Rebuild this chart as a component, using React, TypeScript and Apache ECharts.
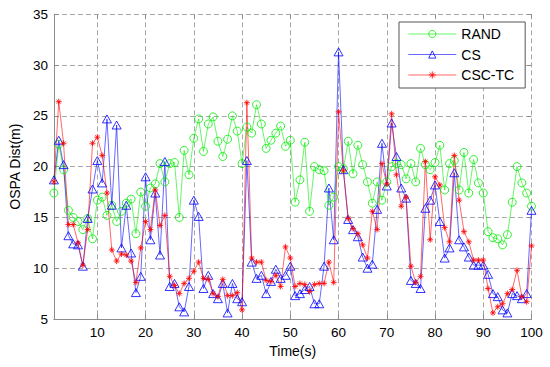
import React, { useEffect, useRef } from "react";
import * as echarts from "echarts";

const timeSteps: number[] = Array.from({ length: 100 }, (_, i) => i + 1);

const randValues: number[] = [
  17.4, 22.2, 19.7, 15.7, 15.0, 14.6, 13.8, 14.9, 12.9, 16.7,
  17.0, 15.2, 16.2, 14.6, 15.6, 16.4, 16.8, 13.4, 17.5, 16.1,
  17.9, 18.3, 20.3, 18.5, 20.3, 20.4, 15.0, 21.6, 19.2, 22.8,
  24.7, 21.5, 24.2, 24.9, 22.5, 21.0, 22.7, 25.0, 23.5, 20.3,
  23.9, 23.3, 26.1, 24.2, 21.8, 22.6, 23.3, 24.0, 22.0, 22.6,
  16.5, 18.7, 22.4, 15.6, 20.0, 19.7, 19.6, 16.2, 17.0, 20.0,
  19.8, 22.5, 19.3, 22.1, 20.2, 18.5, 16.4, 18.5, 16.7, 18.5,
  20.0, 20.3, 20.2, 18.8, 20.3, 18.5, 21.8, 20.2, 19.7, 20.4,
  22.1, 17.7, 20.3, 20.6, 17.7, 21.4, 17.4, 20.7, 18.4, 17.4,
  13.6, 13.0, 12.9, 12.3, 13.3, 16.5, 20.0, 18.4, 17.4, 16.1,
];

const csValues: number[] = [
  18.7, 22.6, 20.2, 13.2, 12.4, 12.3, 10.2, 14.9, 17.8, 20.6,
  18.4, 24.7, 16.2, 24.1, 12.0, 16.2, 11.5, 7.6, 9.2, 19.0,
  12.8, 17.4, 11.3, 20.5, 8.2, 8.5, 6.2, 5.7, 8.2, 16.7,
  15.1, 8.0, 9.3, 7.5, 7.0, 8.5, 5.6, 8.5, 7.0, 6.7,
  20.6, 10.6, 9.0, 9.3, 7.5, 8.7, 9.9, 9.0, 9.3, 10.2,
  7.3, 7.5, 7.9, 8.2, 6.5, 6.5, 10.2, 17.9, 12.8, 31.3,
  19.7, 14.8, 13.8, 13.1, 11.1, 10.0, 10.4, 15.8, 22.3, 18.1,
  24.3, 21.0, 17.9, 16.9, 8.8, 8.5, 8.0, 15.9, 16.7, 18.2,
  14.6, 11.0, 12.0, 19.4, 12.8, 12.1, 11.1, 10.3, 10.3, 10.3,
  9.4, 7.5, 7.2, 5.9, 5.6, 7.5, 7.3, 7.0, 7.5, 15.7,
];

const csctcValues: number[] = [
  18.5, 26.4, 22.3, 14.3, 14.3, 12.5, 10.3, 13.8, 22.3, 22.9,
  21.1, 17.4, 11.8, 10.7, 11.4, 11.3, 10.7, 8.6, 12.0, 14.6,
  13.8, 17.7, 14.2, 15.2, 9.2, 8.3, 7.5, 8.5, 9.0, 9.7,
  10.6, 9.0, 8.9, 7.5, 7.2, 8.9, 7.3, 7.3, 7.6, 5.9,
  26.3, 11.0, 10.6, 10.6, 8.8, 8.7, 9.3, 8.2, 12.1, 11.0,
  8.2, 8.5, 8.4, 7.7, 8.4, 8.5, 8.5, 10.6, 8.6, 25.4,
  19.6, 14.9, 13.9, 13.4, 12.3, 11.0, 15.6, 13.8, 20.3, 18.3,
  25.2, 19.2, 16.1, 17.0, 10.2, 8.6, 9.2, 20.5, 12.8, 19.0,
  18.2, 14.0, 12.6, 21.1, 16.7, 13.6, 12.6, 10.8, 10.8, 10.8,
  8.0, 5.6, 6.2, 6.5, 7.5, 7.9, 9.8, 7.2, 6.7, 12.2,
];

const seriesNames = ["RAND", "CS", "CSC-TC"];
const seriesColors = ["#00ee00", "#0000ff", "#ff0000"];
const yTicks = { min: 5, max: 35, step: 5 };
const xRange = { min: 1, max: 100 };

const FONT = "'Liberation Sans', Arial, Helvetica, sans-serif";
const ASTERISK =
  "path://M5,0L5,10M0,5L10,5M1.6,1.6L8.4,8.4M1.6,8.4L8.4,1.6";

function pairs(vals: number[]) {
  return timeSteps.map((t, i) => [t, vals[i]]);
}

export default function App() {
  const ref = useRef<HTMLDivElement>(null);

  useEffect(() => {
    if (!ref.current) return;
    const chart = echarts.init(ref.current, undefined, { renderer: "svg" });
    const axisColor = "#8c8c8c";
    const gridStyle = { color: "#a8a8a8", width: 1, type: [5, 3] as any };

    const mkSeries = (
      name: string,
      vals: number[],
      color: string,
      symbol: string,
      size: number | number[]
    ) => ({
      name,
      type: "line",
      data: pairs(vals),
      symbol,
      symbolSize: size,
      showSymbol: true,
      lineStyle: { color, width: 0.6 },
      itemStyle: { color: "rgba(0,0,0,0)", borderColor: color, borderWidth: 0.8 },
      emphasis: { disabled: true },
      z: 3,
    });

    chart.setOption({
      animation: false,
      backgroundColor: "#ffffff",
      textStyle: { fontFamily: FONT },
      grid: { left: 53, right: 18.5, top: 14.3, bottom: 48, containLabel: false },
      legend: {
        show: true,
        orient: "vertical",
        left: 399,
        top: 22,
        itemWidth: 48,
        itemHeight: 9,
        itemGap: 6.5,
        padding: [5, 11, 6, 9],
        backgroundColor: "#ffffff",
        borderColor: "#555555",
        borderWidth: 1,
        borderRadius: 0,
        textStyle: { fontSize: 14, color: "#000", fontFamily: FONT, lineHeight: 14 },
        data: seriesNames.map((n, i) => ({
          name: n,
          itemStyle: {
            color: "rgba(0,0,0,0)",
            borderColor: seriesColors[i],
            borderWidth: 0.8,
          },
          lineStyle: { color: seriesColors[i], width: 0.6 },
        })),
        selectedMode: false,
      },
      xAxis: [
        {
          type: "value",
          min: xRange.min,
          max: xRange.max,
          splitNumber: 10,
          name: "Time(s)",
          nameLocation: "middle",
          nameGap: 25,
          nameTextStyle: { fontSize: 14, color: "#000", fontFamily: FONT },
          axisLine: { show: true, lineStyle: { color: axisColor, width: 1 } },
          axisTick: { show: true, inside: true, length: 5, lineStyle: { color: axisColor } },
          axisLabel: {
            showMinLabel: false,
            fontSize: 13.5,
            color: "#000",
            margin: 6,
            fontFamily: FONT,
          },
          splitLine: { show: true, lineStyle: gridStyle },
        },
        {
          type: "value",
          position: "top",
          min: xRange.min,
          max: xRange.max,
          splitNumber: 10,
          axisLine: { show: false },
          axisTick: { show: true, inside: true, length: 4, lineStyle: { color: axisColor } },
          axisLabel: { show: false },
          splitLine: { show: false },
        },
      ],
      yAxis: [
        {
          type: "value",
          min: yTicks.min,
          max: yTicks.max,
          interval: yTicks.step,
          name: "OSPA Dist(m)",
          nameLocation: "middle",
          nameGap: 30,
          nameTextStyle: { fontSize: 14, color: "#000", fontFamily: FONT },
          axisLine: { show: true, lineStyle: { color: axisColor, width: 1 } },
          axisTick: { show: true, inside: true, length: 5, lineStyle: { color: axisColor } },
          axisLabel: { fontSize: 13.5, color: "#000", margin: 6, fontFamily: FONT },
          splitLine: { show: true, lineStyle: gridStyle },
        },
        {
          type: "value",
          position: "right",
          min: yTicks.min,
          max: yTicks.max,
          interval: yTicks.step,
          axisLine: { show: false },
          axisTick: { show: true, inside: true, length: 4, lineStyle: { color: axisColor } },
          axisLabel: { show: false },
          splitLine: { show: false },
        },
      ],
      series: [
        mkSeries(seriesNames[0], randValues, seriesColors[0], "circle", 8),
        mkSeries(seriesNames[1], csValues, seriesColors[1], "triangle", [9, 8]),
        mkSeries(seriesNames[2], csctcValues, seriesColors[2], ASTERISK, 6),
      ],
    });

    return () => chart.dispose();
  }, []);

  return (
    <div
      ref={ref}
      style={{ position: "absolute", left: 0, top: 0, width: 550, height: 367 }}
    />
  );
}
